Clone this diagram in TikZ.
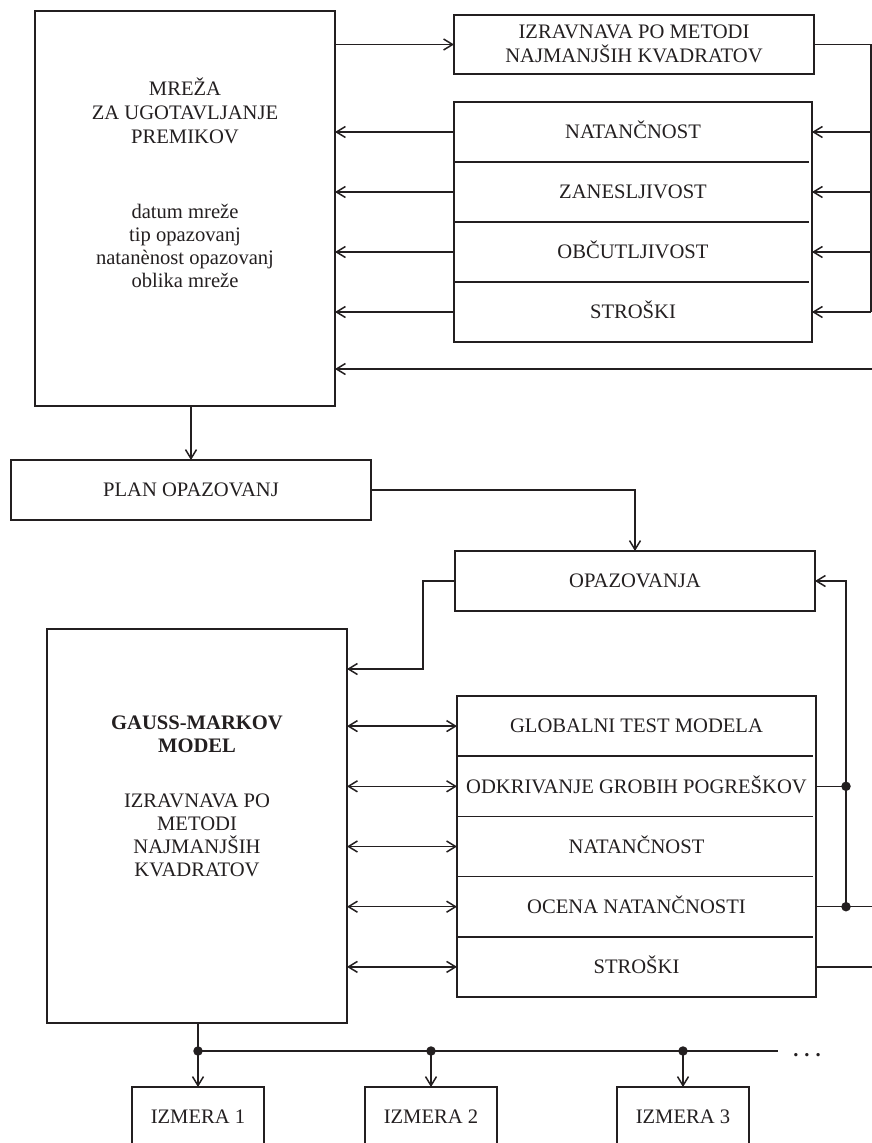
\documentclass[tikz,border=0pt]{standalone}
\usepackage{fontspec}
\setmainfont{Liberation Serif}
\usetikzlibrary{arrows.meta,calc}
\definecolor{ink}{RGB}{35,31,32}
\begin{document}
\begin{tikzpicture}[x=1pt,y=-1pt,
  font=\fontsize{20.6}{24}\selectfont,
  box/.style={draw=ink,line width=1.8pt,inner sep=0pt,outer sep=0pt,text=ink,text height=13.6pt,text depth=0pt},
  cell/.style={inner sep=0pt,outer sep=0pt,text=ink,text height=13.6pt,text depth=0pt},
  ln/.style={inner sep=0pt,outer sep=0pt,text=ink,anchor=base},
  link/.style={draw=ink,line width=1.5pt},
  arr/.style={link,-{Straight Barb[length=9pt,width=11pt]}},
  darr/.style={link,{Straight Barb[length=9pt,width=11pt]}-{Straight Barb[length=9pt,width=11pt]}},
  dot/.style={circle,fill=ink,inner sep=0pt,outer sep=0pt,minimum size=9.5pt},
  divider/.style={draw=ink,line width=1.7pt,shorten >=3pt}
]
\useasboundingbox (0,0) rectangle (872,1143);
\clip (0,0) rectangle (872,1143);

% ---------- upper part ----------
\node[box,minimum width=300pt,minimum height=395pt] (mreza) at (185,208.5) {};
\node[ln] (mt1) at (185,95) {MREŽA};
\node[ln] (mt2) at (185,119) {ZA UGOTAVLJANJE};
\node[ln] (mt3) at (185,143) {PREMIKOV};
\node[ln] (md1) at (185,218) {datum mreže};
\node[ln] (md2) at (185,241) {tip opazovanj};
\node[ln] (md3) at (185,264) {natanènost opazovanj};
\node[ln] (md4) at (185,287) {oblika mreže};

\node[box,minimum width=360pt,minimum height=59pt] (izr) at (634,44.5) {};
\node[ln] (izr1) at (634,38) {IZRAVNAVA PO METODI};
\node[ln] (izr2) at (634,62) {NAJMANJŠIH KVADRATOV};

\node[box,minimum width=358pt,minimum height=240pt] (upanel) at (633,222) {};
\node[cell,minimum width=358pt,minimum height=60pt] (u1) at (633,132) {NATANČNOST};
\node[cell,minimum width=358pt,minimum height=60pt] (u2) at (633,192) {ZANESLJIVOST};
\node[cell,minimum width=358pt,minimum height=60pt] (u3) at (633,252) {OBČUTLJIVOST};
\node[cell,minimum width=358pt,minimum height=60pt] (u4) at (633,312) {STROŠKI};
\foreach \i in {1,2,3} \draw[divider] (u\i.south west) -- (u\i.south east);

\draw[arr] (izr.west -| mreza.east) -- (izr.west);
\foreach \i in {1,...,4} \draw[arr] (u\i.west) -- (u\i.west -| mreza.east);

\coordinate (rt) at (871,0);
\draw[link] (izr.east) -| (u4.east -| rt);
\foreach \i in {1,...,4} \draw[arr] (u\i.east -| rt) -- (u\i.east);

\coordinate (fb) at (873,369);
\draw[arr] (fb) -- (fb -| mreza.east);

% ---------- plan ----------
\node[box,minimum width=360pt,minimum height=60pt] (plan) at (191,490) {PLAN OPAZOVANJ};
\draw[arr] (mreza.south -| plan.north) -- (plan.north);

\node[box,minimum width=360pt,minimum height=60pt] (opaz) at (635,581) {OPAZOVANJA};
\draw[arr] (plan.east) -| (opaz.north);

% ---------- Gauss-Markov ----------
\node[box,minimum width=300pt,minimum height=394pt] (gauss) at (197,826) {};
\node[ln,font=\fontsize{20.6}{24}\selectfont\bfseries] (g1) at (197,729) {GAUSS-MARKOV};
\node[ln,font=\fontsize{20.6}{24}\selectfont\bfseries] (g2) at (197,752) {MODEL};
\node[ln] (g3) at (197,807) {IZRAVNAVA PO};
\node[ln] (g4) at (197,830) {METODI};
\node[ln] (g5) at (197,853) {NAJMANJŠIH};
\node[ln] (g6) at (197,876) {KVADRATOV};

\coordinate (jog) at (423,0);
\draw[arr] (opaz.west) -- (opaz.west -| jog) |- ($(gauss.north east)+(0,40)$);

\node[box,minimum width=359pt,minimum height=301pt] (lpanel) at (636.5,846.5) {};
\node[cell,minimum width=359pt,minimum height=60.2pt] (l1) at (636.5,726.1) {GLOBALNI TEST MODELA};
\node[cell,minimum width=359pt,minimum height=60.2pt] (l2) at (636.5,786.3) {ODKRIVANJE GROBIH POGREŠKOV};
\node[cell,minimum width=359pt,minimum height=60.2pt] (l3) at (636.5,846.5) {NATANČNOST};
\node[cell,minimum width=359pt,minimum height=60.2pt] (l4) at (636.5,906.7) {OCENA NATANČNOSTI};
\node[cell,minimum width=359pt,minimum height=60.2pt] (l5) at (636.5,966.9) {STROŠKI};
\foreach \i in {1,...,4} \draw[divider] (l\i.south west) -- (l\i.south east);
\foreach \i in {1,...,5} \draw[darr] (l\i.west -| gauss.east) -- (l\i.west);

% right side feedback
\coordinate (rv) at (846,0);
\coordinate (edge) at (873,0);
\node[dot] (d2) at (l2.east -| rv) {};
\node[dot] (d4) at (l4.east -| rv) {};
\draw[link] (l2.east) -- (d2.center);
\draw[link] (l4.east) -- (d4.center) -- (d4.center -| edge);
\draw[arr] (d4.center) |- (opaz.east);
\draw[link] (l5.east) -- (l5.east -| edge);

% ---------- measurements ----------
\node[box,minimum width=132pt,minimum height=60pt] (iz1) at (198,1117) {IZMERA 1};
\node[box,minimum width=132pt,minimum height=60pt] (iz2) at (431,1117) {IZMERA 2};
\node[box,minimum width=132pt,minimum height=60pt] (iz3) at (683,1117) {IZMERA 3};
\coordinate (bus) at (0,1051);
\node[dot] (b1) at (iz1.north |- bus) {};
\node[dot] (b2) at (iz2.north |- bus) {};
\node[dot] (b3) at (iz3.north |- bus) {};
\coordinate (busend) at (778,1051);
\draw[link] (gauss.south -| b1) -- (b1.center) -- (busend);
\foreach \i in {1,2,3} \draw[arr] (b\i.center) -- (iz\i.north);
\node[ln,font=\fontsize{20.6}{24}\selectfont\bfseries] (more) at (807,1056) {.\hspace{6pt}.\hspace{6pt}.};
\end{tikzpicture}
\end{document}
